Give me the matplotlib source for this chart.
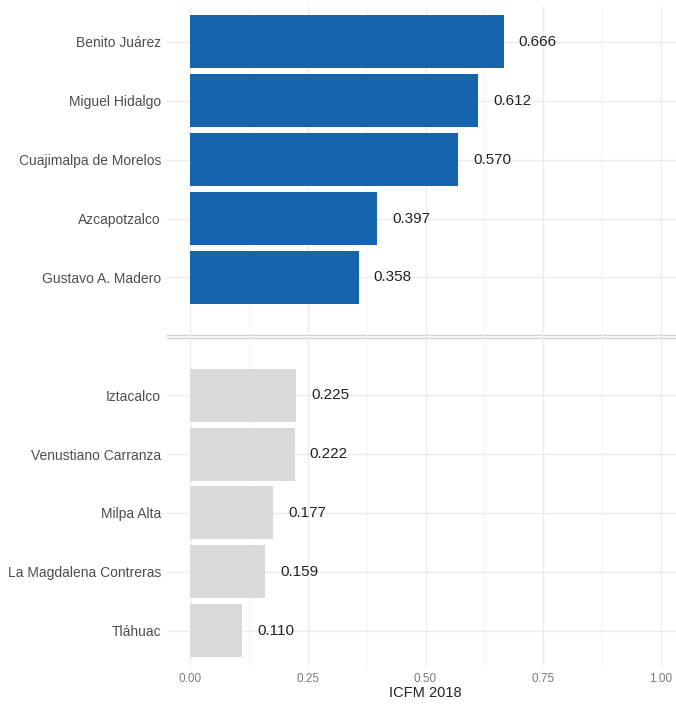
import numpy as np
import matplotlib.pyplot as plt

plt.rcParams['font.family'] = ['Liberation Sans', 'DejaVu Sans']

# data
top_names = ['Benito Juárez', 'Miguel Hidalgo', 'Cuajimalpa de Morelos',
             'Azcapotzalco', 'Gustavo A. Madero']
top_vals = [0.666, 0.612, 0.570, 0.397, 0.358]
bot_names = ['Iztacalco', 'Venustiano Carranza', 'Milpa Alta',
             'La Magdalena Contreras', 'Tláhuac']
bot_vals = [0.225, 0.222, 0.177, 0.159, 0.110]

x_ticks = [0.0, 0.25, 0.5, 0.75, 1.0]
x_labels = ['0.00', '0.25', '0.50', '0.75', '1.00']

blue = '#1764AE'
grey = '#D9D9D9'
grid = '#EBEBEB'

W, H = 676, 704
fig = plt.figure(figsize=(W / 100, H / 100), dpi=100)
# panel in pixels: x from 166.5 to 684.5, y from 6.6 to 666
ax = fig.add_axes([166.5 / W, 1 - 666 / H, 518 / W, (666 - 6.6) / H])

n_top = len(top_names)
y_top = np.arange(n_top)
y_bot = np.arange(len(bot_names)) + n_top + 1
sep = n_top  # empty row between groups

ax.barh(y_top, top_vals, height=0.9, color=blue, zorder=3)
ax.barh(y_bot, bot_vals, height=0.9, color=grey, zorder=3)

for y, v in zip(list(y_top) + list(y_bot), top_vals + bot_vals):
    ax.text(v + 0.032, y, f'{v:.3f}', va='center', ha='left',
            fontsize=11, color='#222222', zorder=4)

ax.set_xlim(-0.05, 1.05)
ax.set_ylim(y_bot[-1] + 0.6, -0.6)

ax.set_yticks(list(y_top) + list(y_bot))
ax.set_yticklabels(top_names + bot_names, fontsize=10, color='#4D4D4D')
ax.set_xticks(x_ticks)
ax.set_xticklabels(x_labels, fontsize=8.5, color='#7A7A7A')
ax.set_xticks([0.125, 0.375, 0.625, 0.875], minor=True)
ax.tick_params(axis='both', which='both', length=0, pad=4)
ax.tick_params(axis='x', pad=5)
ax.set_xlabel('ICFM 2018', fontsize=10.5, color='#222222', labelpad=1)

ax.grid(True, which='major', color=grid, lw=1.0, zorder=0)
ax.grid(True, which='minor', axis='x', color='#F3F3F3', lw=0.6, zorder=0)
for s in ax.spines.values():
    s.set_visible(False)

# double line separating the two groups
for d in (-0.03, 0.03):
    ax.axhline(sep + d, color='#D0D0D0', lw=1.0, zorder=1)

fig.savefig('out.png', dpi=100)
